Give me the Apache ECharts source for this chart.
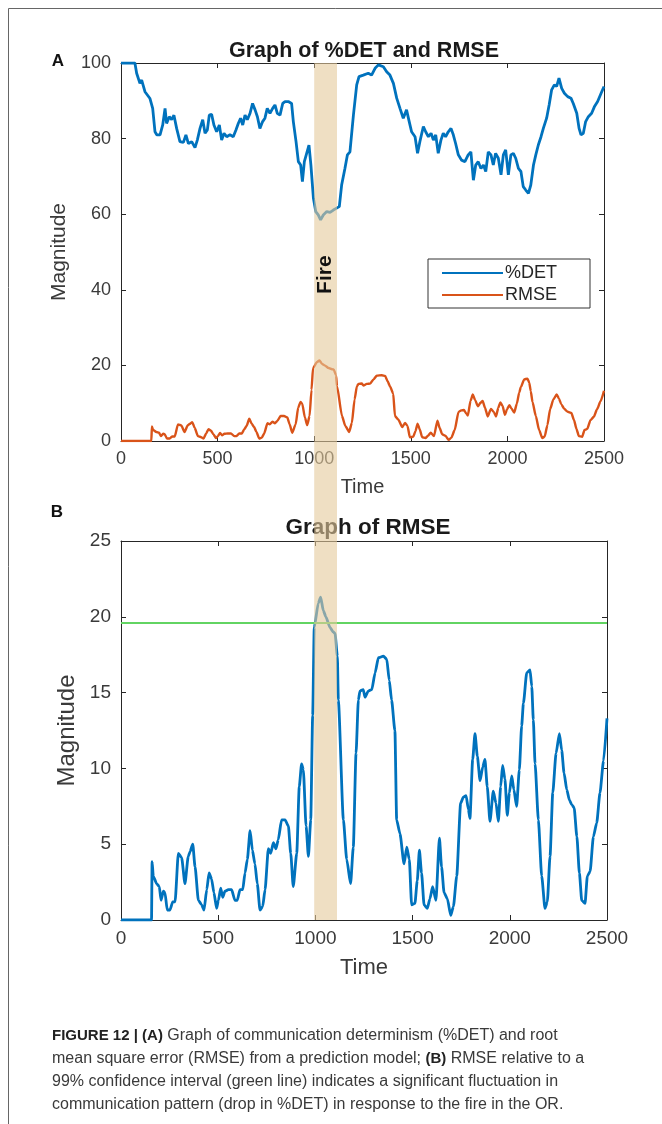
<!DOCTYPE html>
<html>
<head>
<meta charset="utf-8">
<title>Graph of %DET and RMSE</title>
<script src="https://cdn.jsdelivr.net/npm/echarts@6/dist/echarts.min.js"></script>
<style>
  html, body { margin: 0; padding: 0; background: #fff; }
  #main { width: 662px; height: 1124px; }
</style>
</head>
<body>
<div id="main"></div>
<script>
// %DET (panel A)
var detTime = [0, 72, 81, 98, 107, 124, 150, 164, 176, 185,
  202, 216, 228, 236, 250, 262, 274, 288, 305, 323,
  336, 349, 366, 383, 395, 409, 423, 435, 447, 457,
  469, 481, 495, 509, 521, 533, 547, 564, 581, 595,
  607, 619, 630, 642, 654, 668, 681, 694, 706, 719,
  733, 745, 757, 771, 785, 797, 809, 823, 837, 849,
  866, 883, 892, 906, 918, 930, 939, 949, 961, 973,
  983, 996, 1008, 1021, 1033, 1047, 1065, 1082, 1099, 1116,
  1130, 1142, 1159, 1172, 1185, 1203, 1220, 1232, 1254, 1280,
  1297, 1315, 1332, 1358, 1375, 1392, 1410, 1427, 1444, 1461,
  1478, 1490, 1504, 1522, 1535, 1547, 1565, 1577, 1591, 1605,
  1617, 1629, 1642, 1656, 1668, 1680, 1694, 1708, 1720, 1732,
  1746, 1763, 1780, 1797, 1811, 1824, 1836, 1849, 1863, 1876,
  1888, 1901, 1915, 1927, 1939, 1953, 1967, 1979, 1991, 2005,
  2018, 2031, 2043, 2057, 2070, 2082, 2095, 2109, 2121, 2135,
  2147, 2160, 2174, 2186, 2203, 2216, 2229, 2243, 2255, 2267,
  2281, 2295, 2312, 2329, 2341, 2359, 2371, 2381, 2393, 2405,
  2419, 2436, 2450, 2467, 2485, 2500]
var detValue = [100, 100, 97.3, 94.6, 95.5, 92.4, 90.6, 88, 81.8, 81,
  81, 83.6, 88, 84, 85.8, 85, 86.2, 82.7, 79.2, 79,
  81, 78.7, 79.2, 77.6, 79.6, 82.7, 85, 81.4, 82.3, 86.2,
  86.4, 83.6, 81.8, 83.6, 79.6, 81.4, 80.5, 81, 80.5, 82.3,
  84, 85.4, 83.6, 86.2, 85, 86.7, 89.3, 87.6, 85.8, 82.7,
  84.5, 85.4, 88, 86.7, 88, 88.9, 86.7, 86.2, 89.3, 89.8,
  89.8, 89.3, 84.5, 79.2, 73.9, 73, 68.6, 73.9, 76.1, 78.3,
  73, 64.2, 60.7, 59.8, 58.5, 59.8, 60.7, 60.5, 61.1, 61.6,
  62, 67.7, 72.1, 75.7, 76.5, 86.2, 94.2, 96.4, 96.8, 97.3,
  96.8, 98.6, 99.5, 99, 97.7, 96.8, 94.6, 90.7, 88, 85.4,
  87.6, 84.9, 81.8, 80.5, 76.1, 79.2, 83.2, 81.8, 80.5, 81.4,
  79.6, 81, 76.1, 79.6, 81.4, 80.5, 81.8, 82.7, 81, 78.7,
  75.7, 74.3, 73.9, 75.7, 76.5, 69, 73, 73.9, 72.1, 73,
  71.3, 76.5, 75.7, 73, 76.1, 74.8, 70.4, 75.7, 77, 70.4,
  75.7, 76.1, 74.8, 72.1, 71.3, 67.3, 66.4, 65.5, 67.7, 73,
  75.7, 78.3, 80.5, 82.7, 85.4, 88.9, 92.9, 94.2, 93.8, 96,
  93.3, 92, 91.1, 90.7, 89.3, 86.7, 82.7, 81, 81.4, 84.5,
  85.8, 86.7, 88.4, 89.8, 92, 93.8]

// RMSE (panel A and B)
var rmseTime = [0, 157, 160, 166, 183, 197, 206, 218, 226, 238,
  252, 266, 278, 295, 312, 329, 346, 355, 369, 381,
  398, 415, 427, 441, 453, 466, 478, 492, 501, 513,
  523, 535, 552, 569, 586, 598, 612, 626, 638, 650,
  664, 676, 689, 701, 715, 729, 741, 758, 770, 784,
  797, 809, 826, 844, 861, 873, 886, 904, 917, 929,
  938, 952, 964, 976, 986, 994, 1015, 1027, 1041, 1054,
  1075, 1092, 1101, 1113, 1118, 1144, 1161, 1181, 1195, 1209,
  1221, 1229, 1246, 1255, 1272, 1290, 1307, 1324, 1350, 1367,
  1380, 1392, 1409, 1418, 1435, 1456, 1470, 1483, 1495, 1512,
  1524, 1535, 1546, 1559, 1576, 1589, 1603, 1620, 1638, 1649,
  1662, 1679, 1696, 1710, 1727, 1747, 1761, 1775, 1787, 1795,
  1809, 1821, 1833, 1847, 1861, 1872, 1884, 1898, 1915, 1929,
  1941, 1953, 1963, 1975, 1987, 1998, 2010, 2021, 2035, 2049,
  2061, 2070, 2087, 2104, 2113, 2121, 2130, 2147, 2164, 2181,
  2193, 2207, 2221, 2238, 2255, 2267, 2279, 2293, 2307, 2319,
  2331, 2345, 2358, 2370, 2387, 2399, 2413, 2430, 2447, 2464,
  2482, 2500]
var rmseValue = [0, 0, 3.85, 2.9, 2.4, 2.2, 1.3, 1.9, 1.8, 0.66,
  0.66, 1.2, 1.2, 4.4, 4.1, 2.4, 4.2, 4.5, 5.0, 3.5,
  1.3, 1.0, 0.66, 2.0, 3.1, 2.7, 1.8, 0.77, 1.3, 2.1,
  1.5, 1.9, 2.0, 2.0, 1.3, 1.3, 2.0, 2.0, 3.1, 4.0,
  5.9, 4.6, 3.7, 2.4, 0.66, 0.9, 2.0, 4.7, 4.4, 5.1,
  4.7, 5.3, 6.6, 6.6, 6.2, 4.4, 2.2, 4.4, 8.8, 10.3,
  9.9, 6.2, 4.2, 6.6, 13.5, 19.3, 20.9, 21.3, 20.4, 20,
  19.3, 19, 18.9, 17.4, 14.5, 6.6, 4.0, 2.4, 4.8, 11,
  14.5, 15.1, 15.2, 14.7, 15.1, 15.2, 16.3, 17.3, 17.4, 17.2,
  15.8, 14.5, 12.5, 6.6, 5.7, 3.7, 4.8, 4.0, 1.0, 1.1,
  2.6, 4.6, 3.1, 1.0, 0.77, 1.4, 2.2, 1.3, 5.4, 3.5,
  1.8, 1.4, 0.3, 0.9, 2.9, 7.7, 8.1, 8.2, 7.3, 6.7,
  10.6, 12.3, 10.8, 9.2, 10.1, 10.6, 8.8, 6.5, 8.5, 7.7,
  6.5, 8.8, 10.2, 9.3, 6.9, 8.4, 9.5, 8.6, 7.5, 9.9,
  12.8, 14.3, 16.3, 16.5, 15.4, 13.2, 10.3, 6.6, 2.9, 0.77,
  1.2, 4.2, 8.4, 11, 12.3, 11.2, 9.7, 8.6, 7.9, 7.6,
  7.4, 5.5, 3.1, 1.3, 1.1, 2.9, 3.2, 5.5, 6.4, 8.4,
  10.5, 13.3]

var threshold = 19.6        // 99% confidence interval (green line)
var fireStart = 1000
var fireEnd = 1118

var captionLines = [
  '{b|FIGURE 12 | (A)} Graph of communication determinism (%DET) and root',
  'mean square error (RMSE) from a prediction model; {b|(B)} RMSE relative to a',
  '99% confidence interval (green line) indicates a significant fluctuation in',
  'communication pattern (drop in %DET) in response to the fire in the OR.'
]

function zip(xs, ys) {
  return xs.map(function(x, i) { return [x, ys[i]] })
}

var FONT = "'Liberation Sans', Arial, Helvetica, sans-serif"
var AXIS = '#262626'
var LABEL = '#3a3a3a'

function plain(v) { return String(v) }

function xAx(grid, pos, show, size) {
  return {
    type: 'value', gridIndex: grid, position: pos,
    min: 0, max: 2500, interval: 500,
    axisLine: { show: true, onZero: false, lineStyle: { color: AXIS, width: 1 } },
    axisTick: { show: true, inside: true, length: 5, lineStyle: { color: AXIS } },
    axisLabel: { show: show, color: LABEL, fontSize: size, fontFamily: FONT, margin: 9, formatter: plain },
    splitLine: { show: false }
  }
}
function yAx(grid, pos, show, max, step, size) {
  return {
    type: 'value', gridIndex: grid, position: pos,
    min: 0, max: max, interval: step,
    axisLine: { show: true, onZero: false, lineStyle: { color: AXIS, width: 1 } },
    axisTick: { show: true, inside: true, length: 5, lineStyle: { color: AXIS } },
    axisLabel: { show: show, color: LABEL, fontSize: size, fontFamily: FONT, margin: 10, formatter: plain },
    splitLine: { show: false }
  }
}

var chart = echarts.init(document.getElementById('main'))

var xA = xAx(0, 'bottom', true, 18)
xA.name = 'Time'; xA.nameLocation = 'middle'; xA.nameGap = 36
xA.nameTextStyle = { color: LABEL, fontSize: 20, fontFamily: FONT }
var xB = xAx(1, 'bottom', true, 19)
xB.name = 'Time'; xB.nameLocation = 'middle'; xB.nameGap = 37
xB.nameTextStyle = { color: LABEL, fontSize: 22, fontFamily: FONT }
var yA = yAx(0, 'left', true, 100, 20, 18)
yA.name = 'Magnitude'; yA.nameLocation = 'middle'; yA.nameGap = 37
yA.nameTextStyle = { color: LABEL, fontSize: 21, fontFamily: FONT }
var yB = yAx(1, 'left', true, 25, 5, 19)
yB.name = 'Magnitude'; yB.nameLocation = 'middle'; yB.nameGap = 30
yB.nameTextStyle = { color: LABEL, fontSize: 24, fontFamily: FONT }

var option = {
  animation: false,
  backgroundColor: '#fff',
  textStyle: { fontFamily: FONT },
  title: [
    { text: 'Graph of %DET and RMSE', left: 359, top: 35, textAlign: 'center',
      textStyle: { fontSize: 21.5, fontWeight: 'bold', color: '#1a1a1a', fontFamily: FONT } },
    { text: 'Graph of RMSE', left: 363, top: 511, textAlign: 'center',
      textStyle: { fontSize: 22.5, fontWeight: 'bold', color: '#1a1a1a', fontFamily: FONT } }
  ],
  grid: [
    { left: 121, top: 63, width: 483, height: 378 },
    { left: 121, top: 541, width: 486, height: 379 }
  ],
  xAxis: [xA, xAx(0, 'top', false, 18), xB, xAx(1, 'top', false, 19)],
  yAxis: [yA, yAx(0, 'right', false, 100, 20, 18), yB, yAx(1, 'right', false, 25, 5, 19)],
  legend: {
    data: ['%DET', 'RMSE'],
    orient: 'vertical',
    left: 428, top: 259,
    padding: [5, 33, 4, 14],
    itemGap: 4,
    itemWidth: 61, itemHeight: 2,
    icon: 'rect',
    backgroundColor: '#fff',
    borderColor: '#333', borderWidth: 1,
    textStyle: { fontSize: 18, color: '#262626', fontFamily: FONT, padding: [0, 0, 0, -3] }
  },
  series: [
    { name: '%DET', type: 'line', xAxisIndex: 0, yAxisIndex: 0,
      data: zip(detTime, detValue), showSymbol: false, symbol: 'none',
      lineStyle: { color: '#0072BD', width: 2.8 }, itemStyle: { color: '#0072BD' } },
    { name: 'RMSE', type: 'line', xAxisIndex: 0, yAxisIndex: 0,
      data: zip(rmseTime, rmseValue), showSymbol: false, symbol: 'none',
      smooth: 0.2, smoothMonotone: 'x',
      lineStyle: { color: '#D95319', width: 2.4 }, itemStyle: { color: '#D95319' } },
    { name: 'RMSE B', type: 'line', xAxisIndex: 2, yAxisIndex: 2,
      data: zip(rmseTime, rmseValue), showSymbol: false, symbol: 'none',
      smooth: 0.2, smoothMonotone: 'x',
      lineStyle: { color: '#0072BD', width: 2.8 }, itemStyle: { color: '#0072BD' },
      markLine: {
        silent: true, symbol: ['none', 'none'], label: { show: false },
        lineStyle: { color: '#62d462', width: 2, type: 'solid' },
        data: [{ yAxis: threshold }]
      } }
  ]
}
chart.setOption(option)

// fire band, drawn from the axis scales over both panels
var bx0 = chart.convertToPixel({ xAxisIndex: 0 }, fireStart)
var bx1 = chart.convertToPixel({ xAxisIndex: 0 }, fireEnd)
var byTop = chart.convertToPixel({ yAxisIndex: 0 }, 100)
var byBot = chart.convertToPixel({ yAxisIndex: 2 }, 0)
var byFire = chart.convertToPixel({ yAxisIndex: 0 }, 44)

var graphics = [
  { type: 'rect', id: 'frame', silent: true, z: 0,
    shape: { x: 8.5, y: 8.5, width: 700, height: 1200 },
    style: { fill: 'none', stroke: '#666', lineWidth: 1 } },
  { type: 'rect', id: 'fire', silent: true, z: 10,
    shape: { x: bx0, y: byTop, width: bx1 - bx0, height: byBot - byTop },
    style: { fill: 'rgba(228,202,155,0.6)' } },
  { type: 'text', id: 'fireText', z: 11, x: (bx0 + bx1) / 2, y: byFire, rotation: Math.PI / 2,
    style: { text: 'Fire', font: 'bold 21px ' + FONT, fill: '#111', align: 'center', verticalAlign: 'middle' } },
  { type: 'text', id: 'labA', z: 11, x: 58, y: 61,
    style: { text: 'A', font: 'bold 17px ' + FONT, fill: '#111', align: 'center', verticalAlign: 'middle' } },
  { type: 'text', id: 'labB', z: 11, x: 57, y: 512,
    style: { text: 'B', font: 'bold 17px ' + FONT, fill: '#111', align: 'center', verticalAlign: 'middle' } }
]
captionLines.forEach(function(line, i) {
  graphics.push({
    type: 'text', id: 'cap' + i, z: 11, x: 52, y: 1036 + i * 23,
    style: {
      text: line, font: '16px ' + FONT, fill: '#3a3a3a', verticalAlign: 'middle',
      rich: { b: { fontWeight: 'bold', fontSize: 15, fontFamily: FONT, fill: '#222' } }
    }
  })
})
chart.setOption({ graphic: graphics })
</script>
</body>
</html>
